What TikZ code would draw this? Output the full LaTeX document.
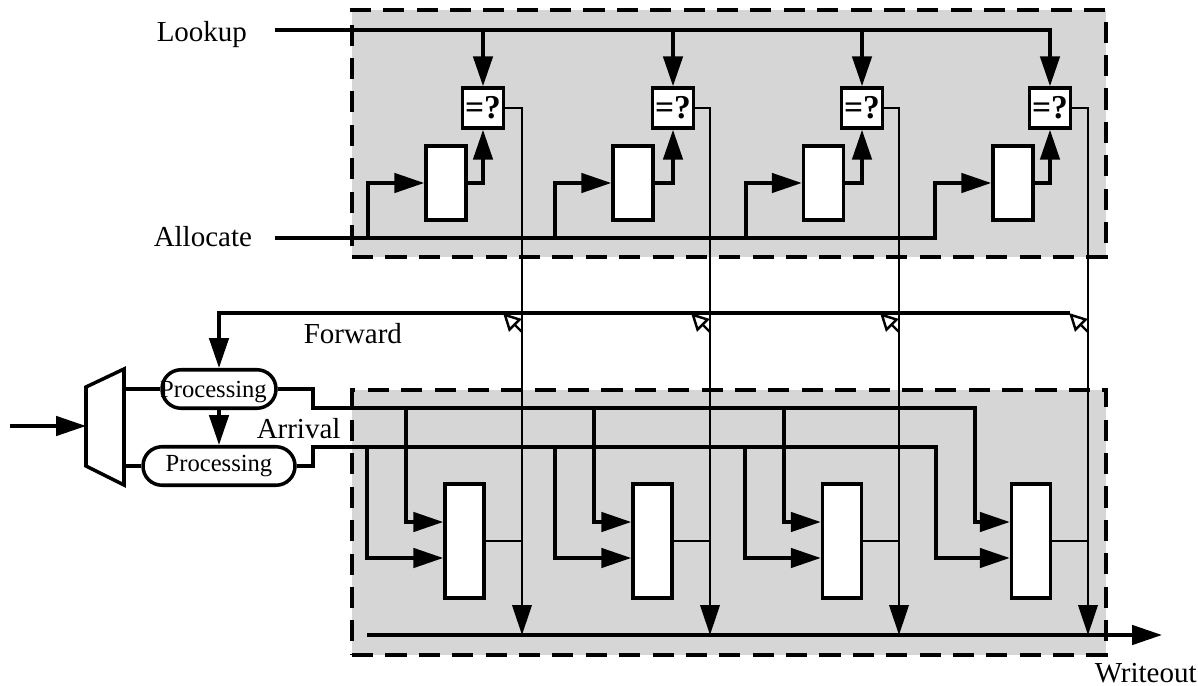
\documentclass[tikz,border=0pt]{standalone}
\usepackage{fontspec}
\setmainfont{Liberation Serif}
\usetikzlibrary{arrows.meta}

\tikzset{
  region/.style={draw, dash pattern=on 12pt off 7pt, fill=boxgray, line width=1.8pt, minimum width=15.08cm, minimum height=4.94cm},
  cmpbox/.style={draw, fill=white, inner sep=0pt, minimum width=0.82cm, minimum height=0.8cm, font=\fontsize{19}{20}\selectfont\bfseries},
  regtop/.style={draw, fill=white, minimum width=0.8cm, minimum height=1.48cm},
  regbot/.style={draw, fill=white, minimum width=0.78cm, minimum height=2.28cm},
  procbox/.style={draw, fill=white, rounded corners=0.38cm, inner sep=0pt, minimum height=0.77cm, font=\fontsize{14}{16}\selectfont},
  tag/.style={inner sep=0pt, anchor=base west, font=\fontsize{16.5}{19}\selectfont},
  thinwire/.style={line width=1.5pt},
  tap/.style={line width=1.4pt, -{Triangle[open, length=10pt, width=10pt]}}
}

\begin{document}
\begin{tikzpicture}[x=0.02cm, y=-0.02cm, >={Triangle[length=17pt, width=11pt]}, line width=2pt]
        % Colores
        \definecolor{boxgray}{RGB}{214, 214, 214}

        \useasboundingbox (0,0) rectangle (1198,686);

        % Bloques
        \node[region] (upper) at (729,133.5) {};
        \node[region, minimum height=5.3cm] (lower) at (729,522.5) {};

        % Nodos
        \node[cmpbox] (cmp1) at (483,108) {=?};
        \node[cmpbox] (cmp2) at (673,108) {=?};
        \node[cmpbox] (cmp3) at (862,108) {=?};
        \node[cmpbox] (cmp4) at (1050,108) {=?};

        \node[regtop] (regT1) at (446,183) {};
        \node[regtop] (regT2) at (633,183) {};
        \node[regtop] (regT3) at (823.5,183) {};
        \node[regtop] (regT4) at (1013,183) {};

        \node[regbot] (regB1) at (464.5,541) {};
        \node[regbot] (regB2) at (652.5,541) {};
        \node[regbot] (regB3) at (842,541) {};
        \node[regbot] (regB4) at (1031,541) {};

        \node[procbox, minimum width=2.28cm, text depth=0pt] (proc1) at (219,389) {\hspace*{-0.22cm}Processing};
        \node[procbox, minimum width=3.04cm] (proc2) at (219,466) {Processing};

        \draw[fill=white] (86,387) -- (124,369) -- (124,485) -- (86,466) -- cycle;
        \coordinate (muxin) at (86,426);
        \coordinate (mux1) at (124,389);
        \coordinate (mux2) at (124,466);
        \coordinate (src) at (10,426);

        \node[tag] (lookup) at (155,42) {Lookup};
        \node[tag] (allocate) at (152,247) {Allocate};
        \node[tag] (forward) at (302,343) {Forward};
        \node[tag] (arrival) at (255,438) {Arrival};
        \node[tag] (writeout) at (1093,682) {Writeout};

        \coordinate (lk) at (275,30);
        \coordinate (al) at (275,238);
        \coordinate (fwd) at (1070,313);
        \coordinate (busA) at (313,408);
        \coordinate (busB) at (313,447);
        \coordinate (wr) at (367,635);
        \coordinate (wrend) at (1162,635);
        \coordinate (out1) at (522,635);
        \coordinate (out2) at (710,635);
        \coordinate (out3) at (899,635);
        \coordinate (out4) at (1088,635);

        % Lookup
        \draw[->] (lk) -| (cmp4.north);
        \draw[->] (cmp1.north |- lk) -- (cmp1.north);
        \draw[->] (cmp2.north |- lk) -- (cmp2.north);
        \draw[->] (cmp3.north |- lk) -- (cmp3.north);

        % Allocate
        \draw[<-] (regT4.west) -- ++(-56,0) |- (al);
        \draw[<-] (regT1.west) -- ++(-56,0) |- (al);
        \draw[<-] (regT2.west) -- ++(-56,0) |- (al);
        \draw[<-] (regT3.west) -- ++(-56,0) |- (al);

        \draw[->] (regT1.east) -| (cmp1.south);
        \draw[->] (regT2.east) -| (cmp2.south);
        \draw[->] (regT3.east) -| (cmp3.south);
        \draw[->] (regT4.east) -| (cmp4.south);

        % Salidas hacia Writeout
        \draw[->, thinwire] (cmp1.east) -| (out1);
        \draw[->, thinwire] (cmp2.east) -| (out2);
        \draw[->, thinwire] (cmp3.east) -| (out3);
        \draw[->, thinwire] (cmp4.east) -| (out4);

        % Forward
        \draw[->] (fwd) -| (proc1.north);
        \draw[tap] (out1 |- fwd) ++(0,19) -- ++(-19,-19);
        \draw[tap] (out2 |- fwd) ++(0,19) -- ++(-19,-19);
        \draw[tap] (out3 |- fwd) ++(0,19) -- ++(-19,-19);
        \draw[tap] (out4 |- fwd) ++(0,19) -- ++(-19,-19);

        % Entrada
        \draw[->] (src) -- (muxin);
        \draw (mux1) -- (proc1.west);
        \draw (mux2) -- (proc2.west);
        \draw[->] (proc1.south) -- (proc2.north);

        % Arrival
        \draw[->] (proc1.east) -| (busA) -| (975,522) -- ([yshift=0.38cm]regB4.west);
        \draw[->] (proc2.east) -| (busB) -| (936,558) -- ([yshift=-0.34cm]regB4.west);
        \draw[<-] ([yshift=0.38cm]regB1.west) -- ++(-37,0) |- (busA);
        \draw[<-] ([yshift=-0.34cm]regB1.west) -- ++(-76,0) |- (busB);
        \draw[<-] ([yshift=0.38cm]regB2.west) -- ++(-37,0) |- (busA);
        \draw[<-] ([yshift=-0.34cm]regB2.west) -- ++(-76,0) |- (busB);
        \draw[<-] ([yshift=0.38cm]regB3.west) -- ++(-37,0) |- (busA);
        \draw[<-] ([yshift=-0.34cm]regB3.west) -- ++(-76,0) |- (busB);

        \draw[thinwire] (regB1.east) -- (regB1.east -| out1);
        \draw[thinwire] (regB2.east) -- (regB2.east -| out2);
        \draw[thinwire] (regB3.east) -- (regB3.east -| out3);
        \draw[thinwire] (regB4.east) -- (regB4.east -| out4);

        % Writeout
        \draw[->] (wr) -- (wrend);

    \end{tikzpicture}
\end{document}
